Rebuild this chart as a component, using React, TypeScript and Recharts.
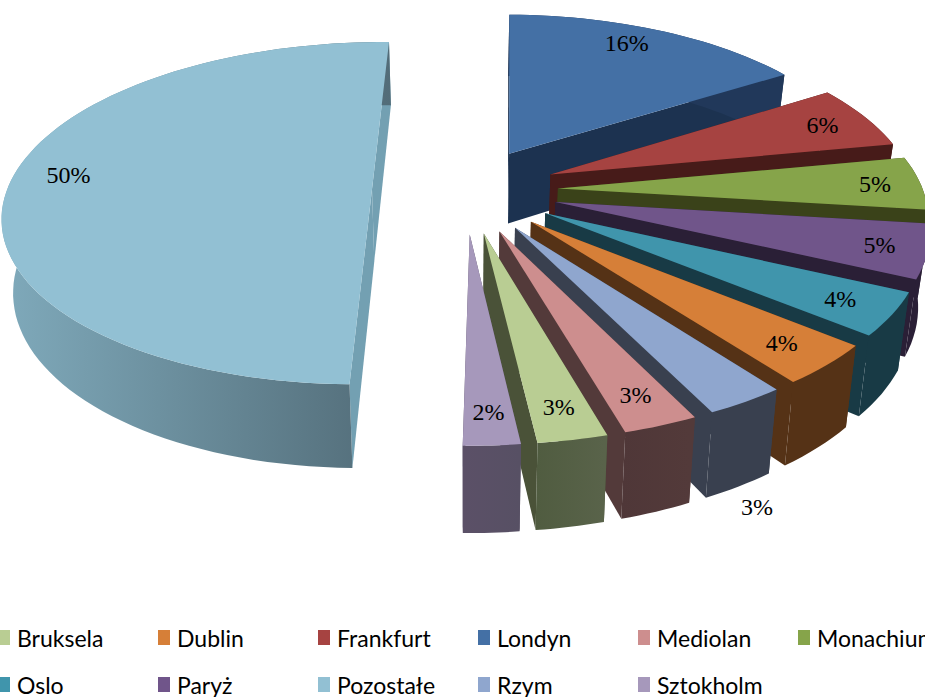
import React from 'react';
import { PieChart, Pie, Cell, Legend } from 'recharts';

const cities = ['Londyn', 'Frankfurt', 'Monachium', 'Paryż', 'Oslo', 'Dublin', 'Rzym', 'Mediolan', 'Bruksela', 'Sztokholm', 'Pozostałe'];
const shares = [15.7, 6, 5, 5, 4, 3.8, 3, 2.8, 2.6, 2.1, 50];
const topColors = ['#4470a5', '#a64341', '#86a44a', '#70558a', '#4095ac', '#d67f38', '#8fa6ce', '#cd8e8e', '#b9cd93', '#a698bb', '#92c0d3'];
const wallLeft = ['#21385a', '#471b19', '#3a4219', '#2a1f36', '#183a45', '#553216', '#39404f', '#4f3738', '#505c40', '#5b5067', '#7ea8b9'];
const wallRight = ['#21385a', '#471b19', '#3a4219', '#2a1f36', '#183a45', '#553216', '#39404f', '#533a3a', '#59634a', '#575064', '#526c78'];
const edgeColors = ['#1c3250', '#471b19', '#3a4219', '#2a1f36', '#183a45', '#553216', '#39404f', '#533a3a', '#4a5238', '#5b5067', '#73a0b2'];
// label placement relative to the slice: radial fraction and angular shift
const labelRadius = [0.86, 0.86, 0.875, 0.875, 0.86, 0.86, 1.37, 0.86, 0.86, 0.86, 0.85];
const labelShift = [-3, 0, 0, 0, 0, 0, 10, 0, 0, 0, 5];

const chartData = cities.map((name, i) => ({ name, value: shares[i] }));

const PERSPECTIVE = 0.14;
const SQUASH = 168 / 365;
const EXPLODE = 0.255;
const DEPTH = 72;
const SHRINK = 0.975;
const rad = (d: number) => (d * Math.PI) / 180;

function project(cx: number, cy: number, R: number, theta: number, r: number, mid: number, lower: boolean) {
  const u = r * Math.sin(rad(theta)) + EXPLODE * Math.sin(rad(mid));
  const v = r * Math.cos(rad(theta)) + EXPLODE * Math.cos(rad(mid));
  const w = 1 + PERSPECTIVE * v;
  const x = (R * u) / w;
  const y = (R * SQUASH * v) / w;
  if (!lower) return [cx + x, cy - y];
  return [cx + x * SHRINK, cy - y + DEPTH / w];
}

const toPath = (pts: number[][]) => 'M' + pts.map((p) => `${p[0].toFixed(1)},${p[1].toFixed(1)}`).join('L') + 'Z';

function Slice3D(props: any) {
  const { cx, cy, outerRadius: R, startAngle, endAngle, index } = props;
  const i = index ?? 0;
  const t0 = 90 - Math.max(startAngle, endAngle);
  const t1 = 90 - Math.min(startAngle, endAngle);
  const mid = (t0 + t1) / 2;
  const n = Math.max(8, Math.ceil((t1 - t0) / 2));
  const upper: number[][] = [];
  const lower: number[][] = [];
  for (let k = 0; k <= n; k++) {
    const t = t0 + ((t1 - t0) * k) / n;
    upper.push(project(cx, cy, R, t, 1, mid, false));
    lower.push(project(cx, cy, R, t, 1, mid, true));
  }
  const a = project(cx, cy, R, 0, 0, mid, false);
  const b = project(cx, cy, R, 0, 0, mid, true);
  const gid = `wall-${i}`;
  const xs = lower.map((p) => p[0]);
  return (
    <g>
      <defs>
        <linearGradient id={gid} gradientUnits="userSpaceOnUse" x1={Math.min(...xs)} x2={Math.max(...xs)} y1={0} y2={0}>
          <stop offset="0" stopColor={wallLeft[i]} />
          <stop offset="1" stopColor={wallRight[i]} />
        </linearGradient>
      </defs>
      <path d={toPath([a, upper[0], lower[0], b])} fill={edgeColors[i]} />
      <path d={toPath([a, upper[n], lower[n], b])} fill={edgeColors[i]} />
      <path d={toPath([...upper, ...lower.slice().reverse()])} fill={`url(#${gid})`} />
      <path d={toPath([a, ...upper])} fill={topColors[i]} />
    </g>
  );
}

function sliceLabel(props: any) {
  const { cx, cy, outerRadius: R, midAngle, percent, index } = props;
  const mid = 90 - midAngle;
  const [x, y] = project(cx, cy, R, mid + labelShift[index], labelRadius[index], mid, false);
  return (
    <text key={index} x={x} y={y} fill="#000" textAnchor="middle" dominantBaseline="central" fontFamily="'Liberation Serif', serif" fontSize={24}>
      {`${Math.round(percent * 100)}%`}
    </text>
  );
}

function LegendGrid(props: any) {
  const items = props.payload || [];
  return (
    <div style={{ display: 'flex', flexWrap: 'wrap', width: 960, fontFamily: 'Lato, sans-serif', fontSize: 23, color: '#000' }}>
      {items.map((it: any) => (
        <div key={it.value} style={{ width: 160, height: 47, display: 'flex', alignItems: 'center', whiteSpace: 'nowrap' }}>
          <span style={{ width: 12, height: 15, background: it.color, marginRight: 7, marginLeft: -2, flex: 'none' }} />
          <span>{it.value}</span>
        </div>
      ))}
    </div>
  );
}

export default function App() {
  return (
    <div style={{ position: 'absolute', left: 0, top: 0, width: 925, height: 697, overflow: 'hidden', background: '#fff' }}>
      <PieChart width={925} height={697} margin={{ top: 0, right: 0, bottom: 0, left: 0 }}>
        <Pie
          data={chartData}
          dataKey="value"
          nameKey="name"
          cx={465}
          cy={190}
          innerRadius={0}
          outerRadius={365}
          startAngle={89}
          endAngle={-271}
          paddingAngle={0}
          stroke="none"
          isAnimationActive={false}
          shape={Slice3D}
          activeShape={Slice3D}
          inactiveShape={Slice3D}
          label={sliceLabel}
          labelLine={false}
        >
          {chartData.map((d, i) => (
            <Cell key={d.name} fill={topColors[i]} />
          ))}
        </Pie>
        <Legend content={LegendGrid} wrapperStyle={{ left: 0, top: 614, width: 960 }} />
      </PieChart>
    </div>
  );
}
